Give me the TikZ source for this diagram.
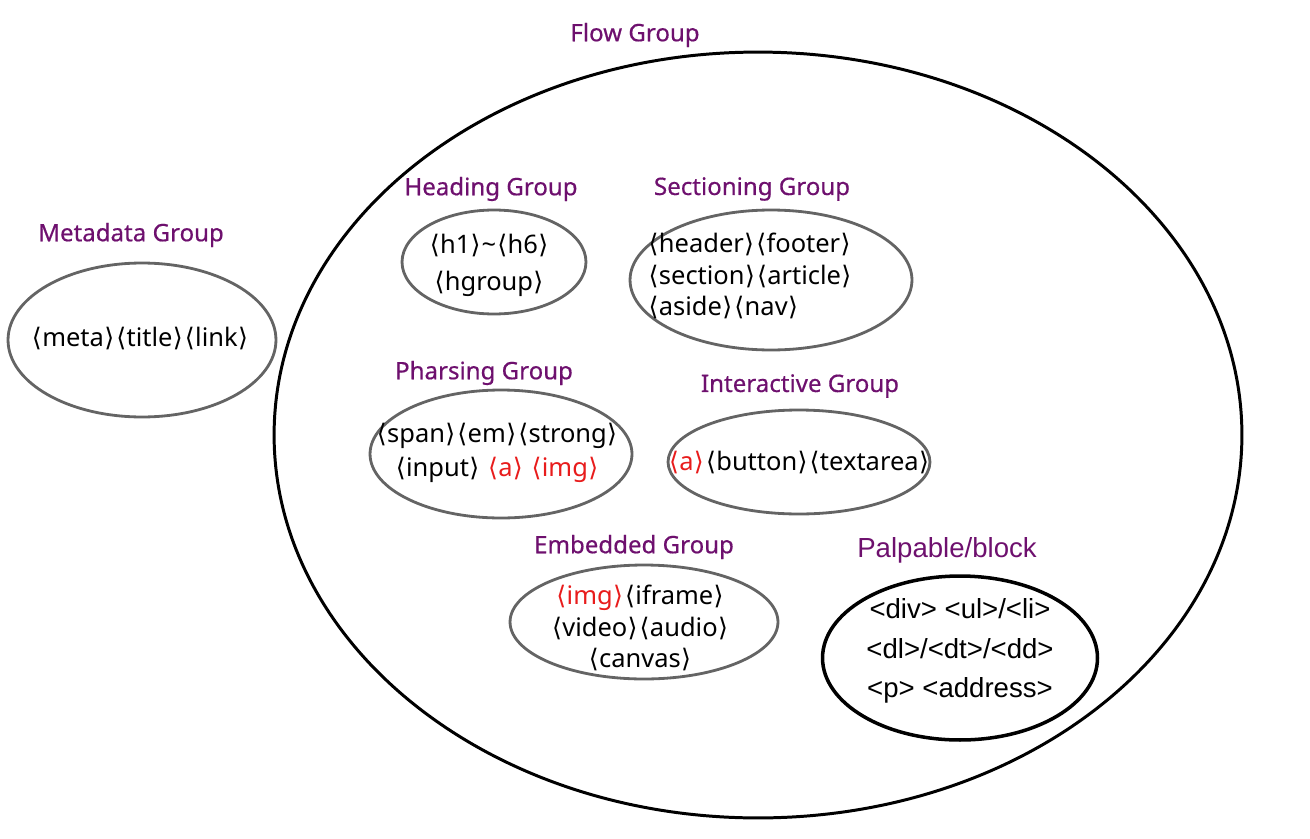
\documentclass[tikz,border=0pt]{standalone}
\usepackage{fontspec}
\setmainfont{Noto Sans}
\newfontfamily\lblfont[FakeBold=0.5]{Noto Sans}
\newfontfamily\brkfont{DejaVu Sans}
\newfontfamily\arialfont{Liberation Sans}
\usetikzlibrary{shapes.geometric}
\definecolor{grpcol}{RGB}{110,16,110}
\definecolor{tagred}{RGB}{232,28,28}
\definecolor{rimgray}{RGB}{100,100,100}
\newcommand{\tg}[1]{{\brkfont\kern0.6pt⟨\kern0.2pt}#1{\brkfont\kern0.2pt⟩\kern0.6pt}}
\newcommand{\rtg}[1]{\textcolor{tagred}{\tg{#1}}}

\begin{document}
\begin{tikzpicture}[
            x=0.02cm,
            y=-0.02cm,
            every node/.style={
                inner sep=0pt
            },
            grp/.style={
                ellipse,
                draw=rimgray,
                line width=1.6pt
            },
            lbl/.style={
                text=grpcol,
                font=\lblfont\fontsize{13.7}{16}\selectfont
            },
            tags/.style={
                align=center,
                font=\fontsize{14.5}{18}\selectfont
            }
        ]
            \useasboundingbox (0,0) rectangle (1310,838);

            % the groups
            \node[grp, draw=black, line width=1.7pt, minimum width=19.36cm, minimum height=15.32cm] (flow) at (758,435) {};
            \node[grp, minimum width=5.36cm, minimum height=3.08cm] (meta) at (142,340) {};
            \node[grp, minimum width=3.68cm, minimum height=2.08cm] (heading) at (494,262) {};
            \node[grp, minimum width=5.64cm, minimum height=2.8cm] (section) at (771,280) {};
            \node[grp, minimum width=5.24cm, minimum height=2.56cm] (phrase) at (501,454) {};
            \node[grp, minimum width=5.24cm, minimum height=2.08cm] (interact) at (799,462) {};
            \node[grp, minimum width=5.36cm, minimum height=2.28cm] (embed) at (644,622) {};
            \node[grp, draw=black, line width=2pt, minimum width=5.5cm, minimum height=3.28cm] (palp) at (960,658) {};

            % group names
            \node[lbl] (flowname) at (635,35) {Flow Group};
            \node[lbl] (metaname) at (131,235) {Metadata Group};
            \node[lbl] (headingname) at (491,189) {Heading Group};
            \node[lbl] (sectionname) at (752,189) {Sectioning Group};
            \node[lbl] (phrasename) at (484,373) {Pharsing Group};
            \node[lbl] (interactname) at (800,386) {Interactive Group};
            \node[lbl] (embedname) at (634,547) {Embedded Group};
            \node[lbl, font=\arialfont\fontsize{15.7}{18}\selectfont] (palpname) at (947,550) {Palpable/block};

            % tags
            \node[tags] (metatags) at (140,338) {\tg{meta}\tg{title}\tg{link}};
            \node[tags, font=\fontsize{14.5}{21}\selectfont] (headingtags) at (489,265) {\tg{h1}\textasciitilde\tg{h6}\\\tg{hgroup}};
            \node[tags, align=left] (sectiontags) at (750,276) {\tg{header}\tg{footer}\\\tg{section}\tg{article}\\\tg{aside}\tg{nav}};
            \node[tags, font=\fontsize{14.5}{19}\selectfont] (phrasetags) at (497,453) {\tg{span}\tg{em}\tg{strong}\\\tg{input} \rtg{a} \rtg{img}};
            \node[tags] (interacttags) at (799,462) {\rtg{a}\tg{button}\tg{textarea}};
            \node[tags] (embedtags) at (640,628) {\rtg{img}\tg{iframe}\\\tg{video}\tg{audio}\\\tg{canvas}};
            \node[tags, font=\arialfont\fontsize{15.7}{22.5}\selectfont] (palptags) at (960,651) {<div> <ul>/<li>\\<dl>/<dt>/<dd>\\<p> <address>};
        \end{tikzpicture}
\end{document}
